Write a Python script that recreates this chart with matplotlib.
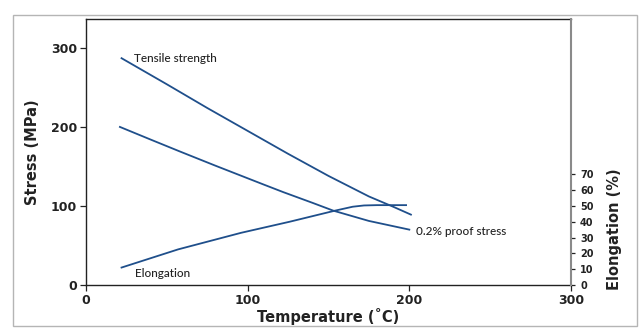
import numpy as np
import matplotlib.pyplot as plt
from matplotlib.patches import Rectangle

# data
temp_ts = [22, 50, 75, 100, 125, 150, 175, 190, 201]
tensile = [287, 254, 224, 195, 166, 138, 112, 99, 89]

temp_ps = [21, 40, 58, 80, 95, 110, 122, 140, 153, 175, 200]
proof = [200, 184, 169, 151, 139, 127, 117.5, 104, 94, 81, 70]

temp_el = [22, 57, 96, 126, 154, 165, 172, 180, 198]
elong = [11, 22.5, 33, 40, 47, 49.5, 50.3, 50.5, 50.5]

line_col = '#1f4f8b'
txt_col = '#222222'

fig = plt.figure(figsize=(6.43, 3.36), dpi=100)
fig.patches.append(Rectangle((0.0202, 0.0298), 0.9705, 0.9255, transform=fig.transFigure,
                             fill=False, ec='#b5b5b5', lw=1.0))

ax = fig.add_axes([0.1337, 0.152, 0.7543, 0.79])
ax.plot(temp_ts, tensile, color=line_col, lw=1.3)
ax.plot(temp_ps, proof, color=line_col, lw=1.3)
ax.set_xlim(0, 300)
ax.set_ylim(0, 336)
ax.set_xticks([0, 100, 200, 300])
ax.set_yticks([0, 100, 200, 300])
ax.tick_params(labelsize=9, colors=txt_col, length=4, width=0.9, pad=2.5)
for lab in ax.get_xticklabels() + ax.get_yticklabels():
    lab.set_fontweight('bold')
for s in ['left', 'bottom', 'top']:
    ax.spines[s].set_color('#222222')
    ax.spines[s].set_linewidth(1.0)
ax.spines['right'].set_visible(False)
ax.set_xlabel('Temperature (˚C)', fontsize=10.5, fontweight='bold', color=txt_col, labelpad=1)
ax.set_ylabel('Stress (MPa)', fontsize=10.5, fontweight='bold', color=txt_col, labelpad=8)

ax2 = ax.twinx()
ax2.plot(temp_el, elong, color=line_col, lw=1.3)
ax2.set_ylim(0, 168)
ax2.set_yticks(range(0, 80, 10))
ax2.tick_params(labelsize=7, colors=txt_col, length=3, width=0.9)
for lab in ax2.get_yticklabels():
    lab.set_fontweight('bold')
for s in ['left', 'bottom', 'top']:
    ax2.spines[s].set_visible(False)
ax2.spines['right'].set_color('#8a8a8a')
ax2.spines['right'].set_linewidth(1.5)
ax2.set_ylabel('Elongation (%)', fontsize=10.5, fontweight='bold', color=txt_col)
ax2.yaxis.set_label_coords(1.075, 35 / 168)

ax.text(30, 287, 'Tensile strength', fontsize=8.5, family='Lato', fontweight='medium',
        color=txt_col, va='center')
ax.text(204, 67.5, '0.2% proof stress', fontsize=8.5, family='Lato', fontweight='medium',
        color=txt_col, va='center')
ax.text(30.3, 14.8, 'Elongation', fontsize=8.5, family='Lato', fontweight='medium',
        color=txt_col, va='center')

fig.savefig('out.png', dpi=100)
